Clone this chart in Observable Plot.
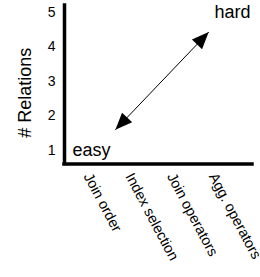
<!DOCTYPE html>
<html><head><meta charset="utf-8">
<script src="https://cdn.jsdelivr.net/npm/d3@7"></script>
<script src="https://cdn.jsdelivr.net/npm/@observablehq/plot@0.6"></script>
<style>
body{margin:0;background:#fff}
svg{font-family:"Liberation Sans",Arial,sans-serif}
svg g[aria-label^="x-axis"] text{font-size:14.5px}
</style>
</head><body><div id="chart"></div>
<script>
const categories = ["Join order", "Index selection", "Join operators", "Agg. operators"];
const categoryIndex = [0, 1, 2, 3];
const yTicks = [1, 2, 3, 4, 5];
const xDomain = [-0.55, 3.96];
const yDomain = [0.61, 5.2];
const arrowStart = {x: 0.67, y: 1.60};
const arrowEnd = {x: 2.91, y: 4.43};
const annotations = [{x: -0.36, y: 1.0, text: "easy"}, {x: 3.05, y: 5.0, text: "hard"}];

const head = {draw(ctx) { const L = 17, W = 7; ctx.moveTo(0, 0); ctx.lineTo(-W, L); ctx.lineTo(W, L); ctx.closePath(); }};

const plot = Plot.plot({
  width: 260, height: 277,
  marginLeft: 64, marginRight: 8, marginTop: 5, marginBottom: 113.5,
  style: {fontSize: "14px", fontFamily: "'Liberation Sans', Arial, sans-serif", color: "black", background: "white"},
  x: {type: "linear", domain: xDomain, ticks: categoryIndex, tickFormat: i => categories[i], tickRotate: 62, tickSize: 0, tickPadding: 10, label: null},
  y: {domain: yDomain, ticks: yTicks, tickFormat: "d", tickSize: 0, tickPadding: 9, label: null},
  marks: [
    Plot.ruleX([xDomain[0]], {stroke: "black", strokeWidth: 3.5, strokeLinecap: "square"}),
    Plot.ruleY([yDomain[0]], {stroke: "black", strokeWidth: 3.5, strokeLinecap: "square"}),
    Plot.text(["# Relations"], {frameAnchor: "left", textAnchor: "middle", rotate: -90, dx: -39, dy: 8, fontSize: 18, fill: "black"}),
    Plot.link([{x1: arrowStart.x, y1: arrowStart.y, x2: arrowEnd.x, y2: arrowEnd.y}], {x1: "x1", y1: "y1", x2: "x2", y2: "y2", stroke: "black", strokeWidth: 1}),
    Plot.dot([arrowEnd], {x: "x", y: "y", symbol: head, rotate: 43.7, fill: "black", stroke: "none"}),
    Plot.dot([arrowStart], {x: "x", y: "y", symbol: head, rotate: 223.7, fill: "black", stroke: "none"}),
    Plot.text(annotations, {x: "x", y: "y", text: "text", textAnchor: "start", fontSize: 18, fill: "black"})
  ]
});
document.getElementById("chart").append(plot);
</script>
</body></html>
